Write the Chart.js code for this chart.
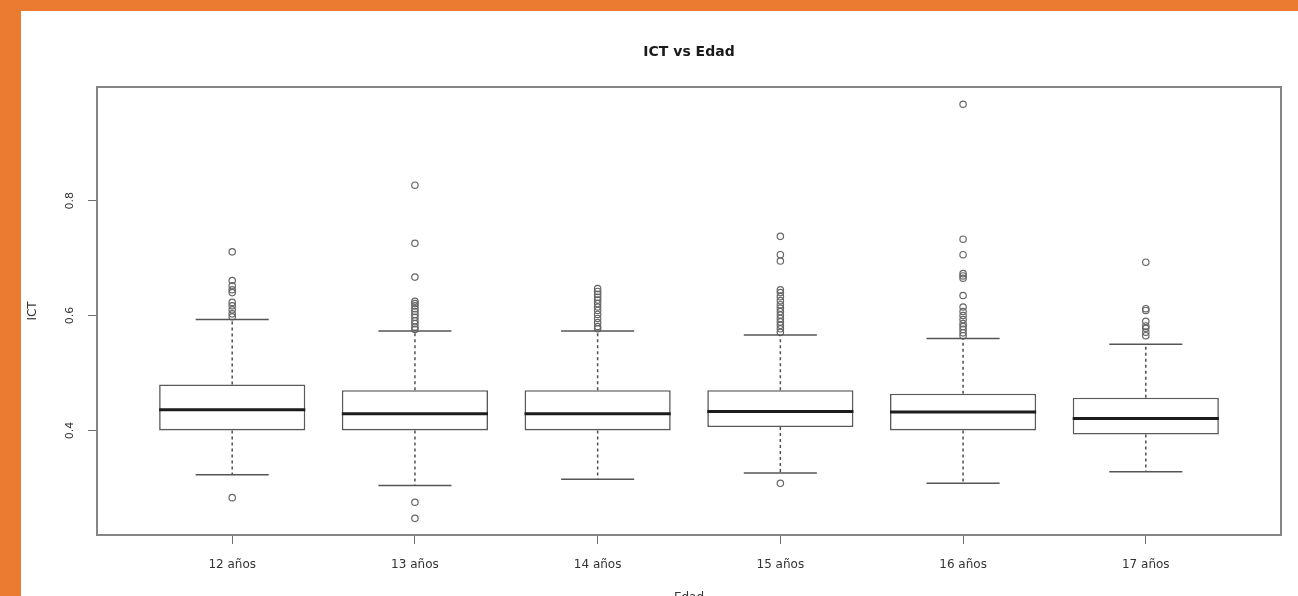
<!DOCTYPE html>
<html>
<head>
<meta charset="utf-8">
<script src="https://cdn.jsdelivr.net/npm/chart.js@4.4.1/dist/chart.umd.min.js"></script>
<style>
  html, body { margin: 0; padding: 0; width: 1298px; height: 596px; overflow: hidden; background: #ec7b32; }
  #panel { position: absolute; left: 21px; top: 11px; width: 1277px; height: 605px; background: #ffffff; }
  canvas { display: block; }
</style>
</head>
<body>
<div id="panel"><canvas id="chart" width="1277" height="605"></canvas></div>
<script>
// Age groups and five-number summaries of ICT per group
const categories = ['12 años', '13 años', '14 años', '15 años', '16 años', '17 años'];
const whiskerLow  = [0.323, 0.304, 0.315, 0.326, 0.308, 0.328];
const q1          = [0.400, 0.400, 0.400, 0.406, 0.400, 0.393];
const median      = [0.436, 0.429, 0.429, 0.433, 0.432, 0.421];
const q3          = [0.480, 0.470, 0.470, 0.470, 0.464, 0.457];
const whiskerHigh = [0.593, 0.573, 0.573, 0.566, 0.560, 0.550];

// Outlying observations per age group
const outliers12 = [0.711, 0.661, 0.652, 0.645, 0.640, 0.623, 0.617, 0.610, 0.603, 0.598, 0.283];
const outliers13 = [0.827, 0.726, 0.667, 0.625, 0.621, 0.617, 0.612, 0.607, 0.602, 0.597, 0.591, 0.586, 0.580, 0.576, 0.275, 0.247];
const outliers14 = [0.647, 0.642, 0.637, 0.632, 0.627, 0.621, 0.615, 0.609, 0.602, 0.595, 0.588, 0.581, 0.577];
const outliers15 = [0.738, 0.706, 0.695, 0.645, 0.640, 0.633, 0.626, 0.619, 0.613, 0.607, 0.601, 0.595, 0.589, 0.583, 0.577, 0.571, 0.308];
const outliers16 = [0.968, 0.733, 0.706, 0.673, 0.669, 0.665, 0.635, 0.615, 0.607, 0.600, 0.593, 0.586, 0.581, 0.576, 0.570, 0.565];
const outliers17 = [0.693, 0.612, 0.609, 0.590, 0.582, 0.578, 0.571, 0.565];

const yTicks = [0.4, 0.6, 0.8];

const outlierGroups = [outliers12, outliers13, outliers14, outliers15, outliers16, outliers17];
const boxData = categories.map((c, i) => ({ x: i + 1, y: [q1[i], q3[i]] }));
const outlierData = outlierGroups.flatMap((g, i) => g.map(v => ({ x: i + 1, y: v })));

const BOX_HALF = 0.4;    // half of the box width, in category units
const CAP_HALF = 0.2;    // half of the whisker cap width

// Whiskers, medians and the frame around the plotting region
const boxplotParts = {
  id: 'boxplotParts',
  afterDatasetsDraw(chart) {
    const { ctx, scales: { x, y } } = chart;
    ctx.save();
    categories.forEach((c, i) => {
      const cx = x.getPixelForValue(i + 1);
      // dashed stems
      ctx.strokeStyle = '#505050';
      ctx.lineWidth = 1.5;
      ctx.setLineDash([3, 3]);
      ctx.beginPath();
      ctx.moveTo(cx, y.getPixelForValue(q3[i]));
      ctx.lineTo(cx, y.getPixelForValue(whiskerHigh[i]));
      ctx.moveTo(cx, y.getPixelForValue(q1[i]));
      ctx.lineTo(cx, y.getPixelForValue(whiskerLow[i]));
      ctx.stroke();
      // caps
      ctx.setLineDash([]);
      ctx.strokeStyle = '#555';
      ctx.beginPath();
      const l = x.getPixelForValue(i + 1 - CAP_HALF), r = x.getPixelForValue(i + 1 + CAP_HALF);
      [whiskerHigh[i], whiskerLow[i]].forEach(v => {
        const py = y.getPixelForValue(v);
        ctx.moveTo(l, py); ctx.lineTo(r, py);
      });
      ctx.stroke();
      // median
      ctx.strokeStyle = '#1c1c1c';
      ctx.lineWidth = 3;
      ctx.beginPath();
      const my = y.getPixelForValue(median[i]);
      ctx.moveTo(x.getPixelForValue(i + 1 - BOX_HALF), my);
      ctx.lineTo(x.getPixelForValue(i + 1 + BOX_HALF), my);
      ctx.stroke();
    });
    ctx.restore();
  },
  afterDraw(chart) {
    const { ctx, chartArea: a } = chart;
    ctx.save();
    ctx.strokeStyle = '#858585';
    ctx.lineWidth = 2;
    ctx.strokeRect(a.left, a.top, a.right - a.left, a.bottom - a.top);
    ctx.restore();
  }
};

const font = { family: 'DejaVu Sans', size: 12 };

new Chart(document.getElementById('chart'), {
  type: 'bar',
  data: {
    datasets: [
      {
        type: 'scatter',
        data: outlierData,
        pointStyle: 'circle',
        pointRadius: 3.2,
        pointBorderWidth: 1.2,
        pointBorderColor: '#666666',
        pointBackgroundColor: 'rgba(0,0,0,0)',
        showLine: false,
        order: 0
      },
      {
        type: 'bar',
        data: boxData,
        backgroundColor: '#ffffff',
        borderColor: '#5a5a5a',
        borderWidth: 1.6,
        borderSkipped: false,
        barPercentage: 0.8,
        categoryPercentage: 1.0,
        order: 1
      }
    ]
  },
  options: {
    responsive: false,
    animation: false,
    devicePixelRatio: 1,
    layout: { padding: { left: 0, right: 17, top: 0, bottom: 0 } },
    plugins: {
      legend: { display: false },
      tooltip: { enabled: false },
      title: {
        display: true,
        text: 'ICT vs Edad',
        fullSize: false,
        color: '#1a1a1a',
        font: { family: 'DejaVu Sans', size: 14, weight: 'bold' },
        padding: { top: 32.5, bottom: 26.7 }
      }
    },
    scales: {
      x: {
        type: 'linear',
        min: 0.26,
        max: 6.74,
        offset: false,
        afterBuildTicks: s => { s.ticks = categories.map((c, i) => ({ value: i + 1 })); },
        afterFit: s => { s.height = 81; },
        ticks: {
          callback: v => categories[Math.round(v) - 1] ?? '',
          autoSkip: false,
          maxRotation: 0,
          padding: 13.5,
          color: '#333',
          font: font
        },
        grid: { drawOnChartArea: false, drawTicks: true, tickLength: 9, offset: false, color: '#6e6e6e', lineWidth: 1 },
        border: { display: false },
        title: { display: true, text: 'Edad', color: '#333', font: font, padding: { top: 0, bottom: 10.5 } }
      },
      y: {
        type: 'linear',
        min: 0.218,
        max: 0.998,
        afterBuildTicks: s => { s.ticks = yTicks.map(v => ({ value: v })); },
        afterFit: s => { s.width = 76; },
        ticks: {
          callback: v => v.toFixed(1),
          minRotation: 90,
          maxRotation: 90,
          crossAlign: 'center',
          padding: 9,
          color: '#333',
          font: { family: 'DejaVu Sans', size: 11 }
        },
        grid: { drawOnChartArea: false, drawTicks: true, tickLength: 9, color: '#6e6e6e', lineWidth: 1 },
        border: { display: false },
        title: { display: true, text: 'ICT', color: '#333', font: font, padding: { top: 5, bottom: 0 } }
      }
    }
  },
  plugins: [boxplotParts]
});
</script>
</body>
</html>
